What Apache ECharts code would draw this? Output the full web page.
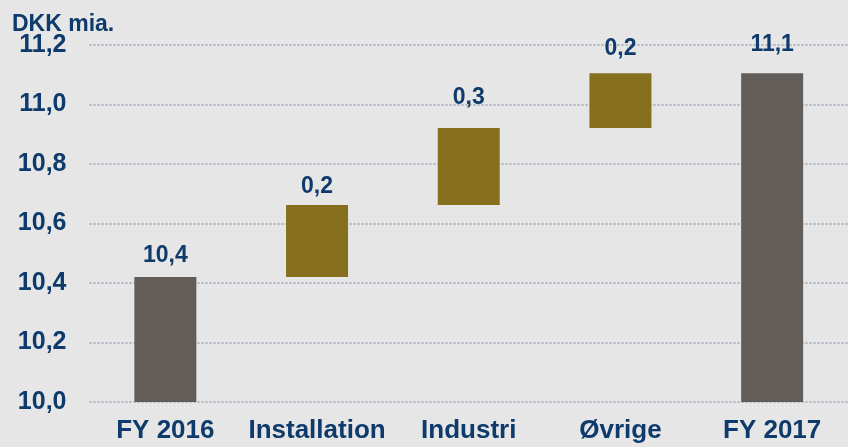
<!DOCTYPE html>
<html>
<head>
<meta charset="utf-8">
<script src="https://cdn.jsdelivr.net/npm/echarts@6/dist/echarts.min.js"></script>
<style>
html,body{margin:0;padding:0;background:#e6e6e6;}
#c{width:848px;height:447px;}
</style>
</head>
<body>
<div id="c"></div>
<script>
const categories = ['FY 2016', 'Installation', 'Industri', 'Øvrige', 'FY 2017'];
const startTotal = 10.42;
const changes = [0.242, 0.259, 0.184];
const endTotal = 11.105;
const yTicks = ['10,0', '10,2', '10,4', '10,6', '10,8', '11,0', '11,2'];
const unitLabel = 'DKK mia.';

const fmt = v => v.toFixed(1).replace('.', ',');
const textColor = '#0e3a6c';
const grey = '#625d59';
const gold = '#86701d';
const font = 'Liberation Sans, Arial, sans-serif';

// build waterfall base + visible values
const base = [0];
const vis = [startTotal];
let run = startTotal;
changes.forEach(c => { base.push(run); vis.push(c); run += c; });
base.push(0); vis.push(endTotal);

const labelGap = [10, 7, 19, 13, 17];

const visData = vis.map((v, i) => ({
  value: v,
  itemStyle: { color: (i === 0 || i === categories.length - 1) ? grey : gold },
  label: {
    show: true, position: 'top', distance: labelGap[i],
    formatter: fmt(v),
    color: textColor, fontFamily: font,
    fontWeight: 'bold', fontSize: 23
  }
}));

const chart = echarts.init(document.getElementById('c'), null, { renderer: 'canvas' });
chart.setOption({
  backgroundColor: '#e6e6e6',
  animation: false,
  title: {
    text: unitLabel, left: 7, top: 8,
    textStyle: { color: textColor, fontFamily: font, fontWeight: 'bold', fontSize: 23 }
  },
  grid: { left: 89.5, top: 45, width: 764, height: 357, containLabel: false },
  xAxis: {
    type: 'category', data: categories,
    axisLine: { show: false }, axisTick: { show: false },
    axisLabel: {
      color: textColor, fontFamily: font,
      fontWeight: 'bold', fontSize: 26, margin: 16, interval: 0
    }
  },
  yAxis: {
    type: 'value', min: 10.0, max: 11.2, interval: 0.2,
    axisLine: { show: false }, axisTick: { show: false },
    axisLabel: {
      color: textColor, fontFamily: font,
      fontWeight: 'bold', fontSize: 25, margin: 23,
      formatter: (v) => {
        const idx = Math.round((v - 10) / 0.2);
        return yTicks[idx] !== undefined ? yTicks[idx] : fmt(v);
      }
    },
    splitLine: { show: true, lineStyle: { color: '#aeb0c0', type: [2, 2], width: 2 } }
  },
  series: [
    {
      type: 'bar', stack: 'w', data: base, barWidth: 62,
      itemStyle: { color: 'transparent' }, silent: true
    },
    {
      type: 'bar', stack: 'w', data: visData, barWidth: 62
    }
  ]
});
</script>
</body>
</html>
